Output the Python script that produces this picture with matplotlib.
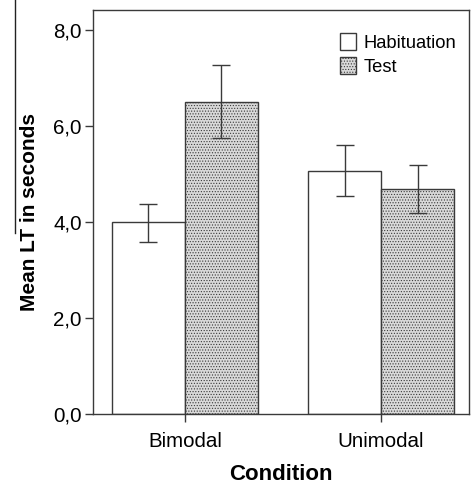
import numpy as np
import matplotlib
matplotlib.use("Agg")
import matplotlib.pyplot as plt
from matplotlib.patches import Patch
from matplotlib.lines import Line2D

plt.rcParams['font.family'] = ['Liberation Sans', 'DejaVu Sans']
plt.rcParams['hatch.color'] = '#9a9a9a'
plt.rcParams['hatch.linewidth'] = 0.5

# ---------------- data ----------------
conditions = ['Bimodal', 'Unimodal']
series = ['Habituation', 'Test']
hab_mean = [4.00, 5.06]
hab_lo = [3.58, 4.54]
hab_hi = [4.39, 5.60]
test_mean = [6.50, 4.69]
test_lo = [5.75, 4.19]
test_hi = [7.27, 5.19]
yticks = [0.0, 2.0, 4.0, 6.0, 8.0]
ytick_labels = ['0,0', '2,0', '4,0', '6,0', '8,0']

edge = '#3a3a3a'
fig = plt.figure(figsize=(4.72, 4.86), dpi=100)
ax = fig.add_axes([0.197, 0.148, 0.797, 0.831])

x = np.arange(len(conditions))
w = 0.372
hm = np.array(hab_mean); tm = np.array(test_mean)
herr = [hm - np.array(hab_lo), np.array(hab_hi) - hm]
terr = [tm - np.array(test_lo), np.array(test_hi) - tm]

ax.bar(x - w/2, hm, w, color='white', edgecolor=edge, linewidth=1.0, zorder=2)
ax.bar(x + w/2, tm, w, color='#d9d9d9', edgecolor=edge, linewidth=1.0,
       hatch='......', zorder=2)
ax.errorbar(x - w/2, hm, yerr=herr, fmt='none', ecolor=edge, elinewidth=1.0,
            capsize=6.5, capthick=1.0, zorder=3)
ax.errorbar(x + w/2, tm, yerr=terr, fmt='none', ecolor=edge, elinewidth=1.0,
            capsize=6.5, capthick=1.0, zorder=3)

ax.set_xlim(-0.469, 1.449)
ax.set_ylim(0, 8.42)
ax.set_xticks(x)
ax.set_xticklabels(conditions, fontsize=14.8)
ax.set_yticks(yticks)
ax.set_yticklabels(ytick_labels, fontsize=14.8)
ax.tick_params(axis='both', direction='out', length=6, width=1.0, color=edge)
ax.tick_params(axis='x', pad=7)
ax.tick_params(axis='y', pad=2)
for s in ax.spines.values():
    s.set_color(edge)
    s.set_linewidth(1.0)

ax.set_ylabel('Mean LT in seconds', fontsize=15, fontweight='bold', labelpad=10)
ax.set_xlabel('Condition', fontsize=16, fontweight='bold', labelpad=9)

handles = [Patch(facecolor='white', edgecolor=edge, linewidth=1.0),
           Patch(facecolor='#d9d9d9', edgecolor=edge, linewidth=1.0, hatch='......')]
ax.legend(handles, series, loc='upper right', bbox_to_anchor=(0.995, 0.97),
          frameon=False, fontsize=13.2, handlelength=0.9, handleheight=1.0,
          handletextpad=0.4, labelspacing=0.3, borderaxespad=0.2)

# scan artifact at the left edge of the original
fig.add_artist(Line2D([15/472, 15/472], [1.0, 1 - 233/486], color='#222222',
                      linewidth=1.0, transform=fig.transFigure))

fig.savefig('out.png', dpi=100)
